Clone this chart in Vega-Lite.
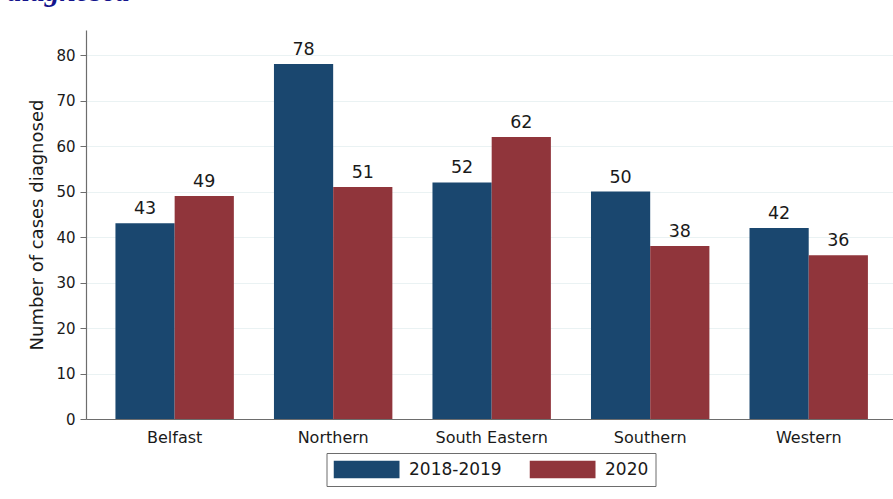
{
  "$schema": "https://vega.github.io/schema/vega-lite/v6.json",
  "width": 807,
  "height": 389,
  "autosize": {"type": "none"},
  "padding": {"left": 86, "top": 30, "right": 0, "bottom": 80},
  "background": "white",
  "title": {
    "text": "diagnosed",
    "anchor": "start",
    "frame": "group",
    "font": "Liberation Serif",
    "fontStyle": "italic",
    "fontWeight": "bold",
    "fontSize": 29.5,
    "color": "#14148c",
    "baseline": "alphabetic",
    "offset": 0,
    "dx": -79,
    "dy": 0
  },
  "data": {
    "values": [
      {"region": "Belfast", "period": "2018-2019", "cases": 43},
      {"region": "Belfast", "period": "2020", "cases": 49},
      {"region": "Northern", "period": "2018-2019", "cases": 78},
      {"region": "Northern", "period": "2020", "cases": 51},
      {"region": "South Eastern", "period": "2018-2019", "cases": 52},
      {"region": "South Eastern", "period": "2020", "cases": 62},
      {"region": "Southern", "period": "2018-2019", "cases": 50},
      {"region": "Southern", "period": "2020", "cases": 38},
      {"region": "Western", "period": "2018-2019", "cases": 42},
      {"region": "Western", "period": "2020", "cases": 36}
    ]
  },
  "encoding": {
    "x": {
      "field": "region",
      "type": "nominal",
      "sort": ["Belfast", "Northern", "South Eastern", "Southern", "Western"],
      "scale": {"paddingInner": 0.253, "paddingOuter": 0.172, "align": 0.54},
      "axis": {
        "title": null,
        "ticks": false,
        "labelAngle": 0,
        "labelFontSize": 16,
        "labelPadding": 10,
        "labelColor": "#1a1a1a",
        "domainColor": "#6d6d6d",
        "domainWidth": 1.2,
        "grid": false
      }
    },
    "xOffset": {
      "field": "period",
      "type": "nominal",
      "scale": {"paddingInner": 0, "paddingOuter": 0}
    },
    "y": {
      "field": "cases",
      "type": "quantitative",
      "scale": {"domain": [0, 85.5], "nice": false},
      "axis": {
        "title": "Number of cases diagnosed",
        "titleFontSize": 18,
        "titleFontWeight": "normal",
        "titleColor": "#1a1a1a",
        "titlePadding": 9,
        "values": [0, 10, 20, 30, 40, 50, 60, 70, 80],
        "labelFontSize": 15,
        "labelColor": "#1a1a1a",
        "labelPadding": 5,
        "tickSize": 6,
        "tickColor": "#6d6d6d",
        "domainColor": "#6d6d6d",
        "domainWidth": 1.2,
        "grid": true,
        "gridColor": "#eaf2f3",
        "gridWidth": 1.2
      }
    },
    "color": {
      "field": "period",
      "type": "nominal",
      "scale": {"domain": ["2018-2019", "2020"], "range": ["#1a476f", "#90353b"]},
      "legend": {
        "title": null,
        "orient": "none",
        "legendX": 240.5,
        "legendY": 423,
        "direction": "horizontal",
        "columns": 2,
        "symbolType": "M-1,-0.262H1V0.262H-1Z",
        "symbolSize": 4356,
        "symbolStrokeWidth": 0,
        "symbolOpacity": 1,
        "clipHeight": 19,
        "labelFontSize": 17,
        "labelColor": "#1a1a1a",
        "labelOffset": 9.5,
        "columnPadding": 27,
        "padding": 7,
        "strokeColor": "#6d6d6d",
        "fillColor": "white"
      }
    }
  },
  "layer": [
    {"mark": {"type": "bar"}},
    {
      "mark": {"type": "text", "baseline": "alphabetic", "dy": -9, "fontSize": 17.5, "color": "#1a1a1a"},
      "encoding": {"text": {"field": "cases", "type": "quantitative"}, "color": {"value": "#1a1a1a"}}
    }
  ],
  "config": {
    "font": "DejaVu Sans",
    "view": {"stroke": null}
  }
}
